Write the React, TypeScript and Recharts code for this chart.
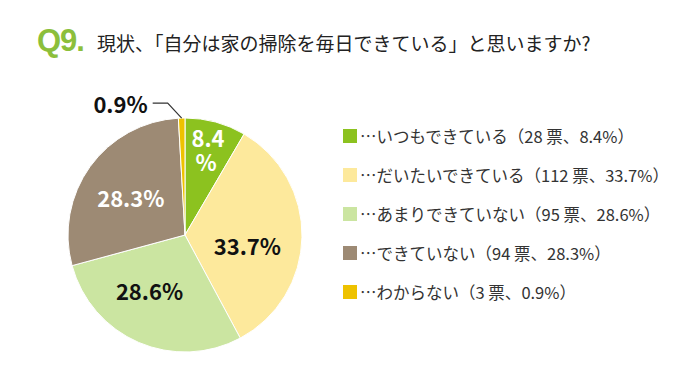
import React from 'react';
import { PieChart, Pie, Cell, Legend } from 'recharts';

const categories = ['いつもできている', 'だいたいできている', 'あまりできていない', 'できていない', 'わからない'];
const votes = [28, 112, 95, 94, 3];
const percents = ['8.4%', '33.7%', '28.6%', '28.3%', '0.9%'];
const colors = ['#8cc21f', '#fde99c', '#cbe5a1', '#9d8a74', '#eec200'];

const data = categories.map((name, i) => ({ name, value: votes[i], pct: percents[i] }));

const RADIAN = Math.PI / 180;
const FONT = '"Noto Sans CJK JP", "Noto Sans", sans-serif';

const renderLabel = (props: any) => {
  const { cx, cy, midAngle, outerRadius, index } = props;
  const cos = Math.cos(-midAngle * RADIAN);
  const sin = Math.sin(-midAngle * RADIAN);
  const common = { fontFamily: FONT, fontWeight: 700, fontSize: 22 };

  if (index === 4) {
    const x0 = cx + outerRadius * cos;
    const y0 = cy + outerRadius * sin;
    const ex = x0 - 14;
    const ey = y0 - 15;
    return (
      <g>
        <polyline points={`${x0},${y0} ${ex},${ey} ${ex - 15},${ey}`} fill="none" stroke="#333" strokeWidth={1.2} />
        <text x={ex - 20} y={ey} textAnchor="end" dominantBaseline="central" fill="#111" {...common}>
          {data[index].pct}
        </text>
      </g>
    );
  }

  if (index === 0) {
    const r = outerRadius * 0.75;
    const x = cx + r * cos;
    const y = cy + r * sin;
    return (
      <text x={x} y={y} textAnchor="middle" fill="#fff" {...common}>
        <tspan x={x} dy={-3}>8.4</tspan>
        <tspan x={x - 2} dy={24}>%</tspan>
      </text>
    );
  }

  const r = outerRadius * 0.55;
  const shift = [[0, 0], [-2, 9], [-10, -4], [-2, 0]][index];
  const x = cx + r * cos + shift[0];
  const y = cy + r * sin + shift[1];
  return (
    <text x={x} y={y} textAnchor="middle" dominantBaseline="central" fill={index === 3 ? '#fff' : '#111'} {...common}>
      {data[index].pct}
    </text>
  );
};

const renderLegend = () => (
  <div style={{ fontFamily: FONT, fontSize: 16.5, color: '#333' }}>
    {data.map((d, i) => (
      <div key={d.name} style={{ display: 'flex', alignItems: 'center', height: 38.8 }}>
        <span style={{ width: 14, height: 14, background: colors[i], display: 'inline-block', marginRight: 3 }} />
        <span>…{d.name}（{d.value} 票、{d.pct}）</span>
      </div>
    ))}
  </div>
);

export default function App() {
  return (
    <div style={{ position: 'relative', width: 680, height: 378, margin: -8, background: '#fff', overflow: 'hidden' }}>
      <div style={{ position: 'absolute', left: 37, top: 23, display: 'flex', alignItems: 'baseline', fontFamily: FONT, whiteSpace: 'nowrap' }}>
        <span style={{ color: '#8cbf3b', fontWeight: 900, fontSize: 31, fontFamily: '"Liberation Sans", Arial, sans-serif', letterSpacing: -1 }}>Q9</span>
        <span style={{ color: '#8cbf3b', fontWeight: 900, fontSize: 31, marginRight: 12, fontFamily: '"Liberation Sans", Arial, sans-serif' }}>.</span>
        <span style={{ color: '#222', fontSize: 19 }}>現状、「自分は家の掃除を毎日できている」と思いますか?</span>
      </div>
      <div style={{ position: 'absolute', left: 0, top: 0 }}>
        <PieChart width={680} height={378} margin={{ top: 0, right: 0, bottom: 0, left: 0 }}>
          <Pie
            data={data}
            dataKey="value"
            nameKey="name"
            cx={185}
            cy={235}
            outerRadius={117}
            startAngle={90}
            endAngle={-270}
            stroke="#fff"
            strokeWidth={1}
            label={renderLabel}
            labelLine={false}
            isAnimationActive={false}
          >
            {data.map((d, i) => (
              <Cell key={d.name} fill={colors[i]} />
            ))}
          </Pie>
          <Legend content={renderLegend} wrapperStyle={{ left: 343, top: 117, width: 335 }} />
        </PieChart>
      </div>
    </div>
  );
}
